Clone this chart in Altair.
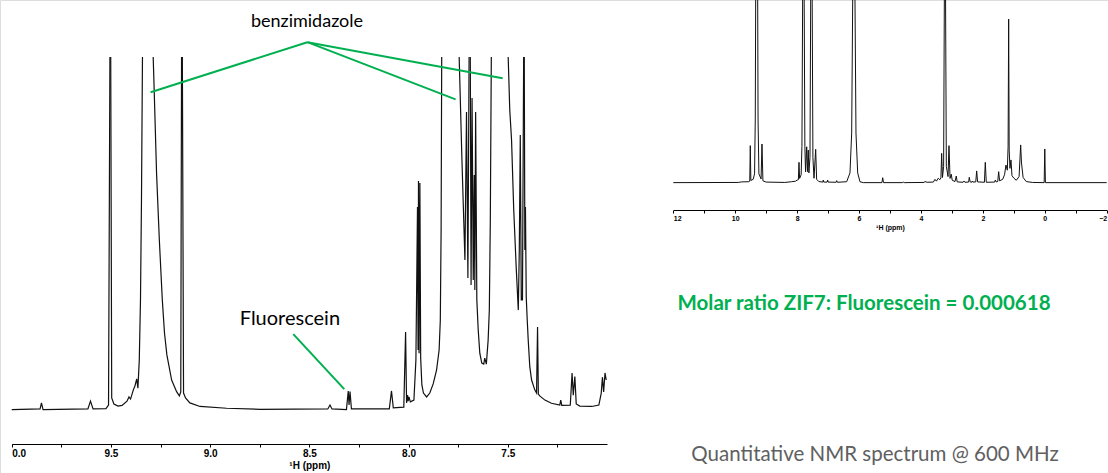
import altair as alt
import pandas as pd

# ---------------------------------------------------------------------------
# 1H NMR (600 MHz) of ZIF-7 loaded with fluorescein.
# Intensities are in % of the displayed window height; a value of 100 means
# the trace touches the top of the window.  Two consecutive 100 values mean
# the peak runs off scale between them (the trace is broken there).
# ---------------------------------------------------------------------------
FULL_SCALE = 100

# aromatic region, 10.0 - 7.0 ppm
MAIN_PPM = [
    10.000, 9.857, 9.850, 9.842, 9.616, 9.603, 9.590, 9.525, 9.512, 9.505,
    9.501, 9.496, 9.485, 9.464, 9.444, 9.419, 9.409, 9.401, 9.387, 9.379,
    9.370, 9.364, 9.357, 9.351, 9.346, 9.341, 9.287, 9.282, 9.270, 9.256,
    9.241, 9.230, 9.218, 9.194, 9.169, 9.155, 9.148, 9.144, 9.140, 9.134,
    9.124, 9.102, 9.051, 8.917, 8.749, 8.407, 8.396, 8.386, 8.313, 8.304,
    8.300, 8.295, 8.288, 8.097, 8.086, 8.077, 8.024, 8.015, 8.010, 8.005,
    8.002, 7.998, 7.991, 7.973, 7.963, 7.955, 7.952, 7.950, 7.947, 7.943,
    7.939, 7.933, 7.925, 7.909, 7.893, 7.876, 7.859, 7.846, 7.840, 7.836,
    7.833, 7.745, 7.731, 7.716, 7.708, 7.701, 7.695, 7.689, 7.685, 7.680,
    7.674, 7.669, 7.666, 7.662, 7.656, 7.649, 7.641, 7.631, 7.621, 7.616,
    7.608, 7.599, 7.593, 7.588, 7.583, 7.498, 7.490, 7.481, 7.470, 7.457,
    7.447, 7.442, 7.437, 7.432, 7.426, 7.420, 7.417, 7.414, 7.411, 7.407,
    7.402, 7.397, 7.389, 7.380, 7.364, 7.355, 7.350, 7.346, 7.339, 7.313,
    7.280, 7.238, 7.233, 7.228, 7.185, 7.176, 7.170, 7.162, 7.155, 7.137,
    7.077, 7.041, 7.029, 7.023, 7.017, 7.010, 7.004,
]
MAIN_INT = [
    0.1, 0.3, 2.0, 0.1, 0.3, 2.5, 0.3, 0.4, 1.4, 100,
    100, 3.4, 1.7, 1.1, 1.3, 2.5, 3.7, 3.1, 5.7, 6.8,
    8.8, 6.2, 14.2, 31.2, 59.5, 100, 100, 90.7, 67.1, 48.2,
    31.2, 21.8, 15.6, 8.5, 5.2, 4.0, 5.1, 100, 100, 4.8,
    3.4, 2.0, 1.0, 0.5, 0.2, 0.3, 1.4, 0.3, 0.1, 5.4,
    1.4, 5.2, 0.3, 0.3, 5.4, 0.6, 0.8, 22.1, 2.0, 4.2,
    2.5, 3.7, 2.3, 2.8, 14.2, 57.5, 17.0, 64.9, 16.1, 64.3,
    14.7, 7.1, 4.8, 3.7, 4.8, 7.4, 11.3, 17.0, 25.5, 51.0,
    100, 100, 70.8, 42.5, 84.4, 37.4, 100, 100, 35.4, 88.4,
    36.8, 66.6, 34.0, 84.4, 31.2, 22.7, 16.1, 13.3, 13.0, 14.7,
    13.0, 19.8, 28.3, 53.8, 100, 100, 85.0, 76.5, 56.7, 39.7,
    28.3, 45.3, 77.9, 31.2, 31.2, 100, 100, 45.3, 57.5, 32.0,
    25.5, 19.8, 12.2, 8.5, 5.7, 4.8, 23.5, 4.5, 4.0, 2.8,
    1.9, 1.4, 2.8, 1.3, 1.4, 10.5, 4.2, 9.5, 1.7, 1.1,
    1.0, 1.4, 4.8, 9.3, 5.1, 10.5, 8.5,
]

# full spectrum, 12 - -2 ppm
INSET_PPM = [
    12.00, 9.90, 9.80, 9.56, 9.530, 9.513, 9.495, 9.42, 9.375, 9.352,
    9.339, 9.274, 9.262, 9.235, 9.165, 9.135, 9.105, 9.00, 8.40, 8.18,
    8.05, 8.00, 7.96, 7.940, 7.92, 7.87, 7.845, 7.822, 7.772, 7.750,
    7.728, 7.691, 7.665, 7.640, 7.620, 7.585, 7.562, 7.514, 7.490, 7.455,
    7.401, 7.37, 7.30, 7.17, 7.155, 7.14, 7.03, 7.013, 7.00, 6.74,
    6.722, 6.70, 6.40, 6.293, 6.238, 6.205, 6.131, 6.099, 6.044, 5.970,
    5.863, 5.26, 5.236, 5.21, 4.60, 4.571, 4.54, 3.90, 3.870, 3.80,
    3.60, 3.547, 3.50, 3.441, 3.39, 3.355, 3.331, 3.305, 3.268, 3.245,
    3.205, 3.180, 3.125, 3.095, 3.060, 3.021, 2.99, 2.90, 2.859, 2.83,
    2.64, 2.610, 2.58, 2.46, 2.439, 2.41, 2.36, 2.342, 2.32, 2.23,
    2.200, 2.17, 1.95, 1.922, 1.89, 1.62, 1.599, 1.57, 1.52, 1.490,
    1.46, 1.36, 1.30, 1.254, 1.21, 1.185, 1.167, 1.150, 1.125, 1.092,
    1.06, 0.996, 0.92, 0.83, 0.779, 0.752, 0.70, 0.60, 0.40, 0.02,
    0.000, -0.02, -2.00,
]
INSET_INT = [
    0.2, 0.3, 0.6, 0.7, 1.0, 20.4, 1.4, 2.0, 5.0, 35.0,
    100, 100, 35.0, 5.0, 2.2, 21.3, 1.2, 0.5, 0.3, 0.7,
    1.0, 1.6, 1.8, 11.3, 2.5, 4.5, 20.0, 100, 100, 20.0,
    6.0, 19.8, 6.2, 18.0, 5.5, 14.0, 100, 100, 14.0, 2.6,
    18.4, 2.0, 0.8, 0.5, 1.6, 0.5, 0.5, 1.6, 0.5, 0.4,
    1.3, 0.4, 0.7, 5.5, 27.3, 100, 100, 27.3, 5.5, 0.7,
    0.2, 0.2, 2.9, 0.2, 0.2, 0.5, 0.2, 0.3, 0.8, 0.4,
    0.5, 2.0, 1.0, 2.6, 1.8, 2.8, 16.2, 3.0, 9.0, 100,
    100, 9.0, 3.5, 20.4, 2.5, 4.8, 1.5, 0.8, 3.8, 0.6,
    0.4, 1.1, 0.4, 0.5, 3.1, 0.6, 0.4, 1.1, 0.5, 0.6,
    6.6, 0.6, 0.4, 11.3, 0.4, 0.5, 1.6, 0.6, 0.8, 6.2,
    1.2, 2.0, 4.5, 9.8, 7.0, 20.0, 89.6, 18.0, 8.0, 12.6,
    4.0, 2.6, 1.5, 3.5, 20.8, 10.9, 3.0, 0.8, 0.3, 0.2,
    18.6, 0.2, 0.2,
]

MAIN_TICKS = [10.0 - 0.25 * i for i in range(12)]
INSET_TICKS = list(range(12, -3, -1))

# callouts (main-panel coordinates: ppm, % of window)
BENZ_HUB_PPM, BENZ_HUB_INT = 8.510, 104.2
BENZ_TIP_PPM = [9.300, 7.763, 7.526]
BENZ_TIP_INT = [90.0, 88.0, 94.0]
FLUO_FROM = (8.581, 21.5)
FLUO_TO = (8.324, 5.9)
LABEL_TEXT = ["benzimidazole", "Fluorescein"]
LABEL_PPM = [8.512, 8.598]
LABEL_INT = [109.9, 25.8]
LABEL_SIZE = [18, 20]

RATIO_TEXT = "Molar ratio ZIF7: Fluorescein = 0.000618"
CAPTION_TEXT = "Quantitative NMR spectrum @ 600 MHz"

GREEN = "#00B050"
AXIS_FONT = "Liberation Sans"
TEXT_FONT = "Lato"


def trace_frame(ppm, inten):
    assert len(ppm) == len(inten)
    rows, seg, prev = [], 0, None
    for p, v in zip(ppm, inten):
        if prev == FULL_SCALE and v == FULL_SCALE:
            seg += 1
        rows.append({"ppm": p, "intensity": v, "segment": seg})
        prev = v
    return pd.DataFrame(rows)


main_df = trace_frame(MAIN_PPM, MAIN_INT)
inset_df = trace_frame(INSET_PPM, INSET_INT)

callout_df = pd.DataFrame({
    "ppm": [BENZ_HUB_PPM] * 3 + [FLUO_FROM[0]],
    "intensity": [BENZ_HUB_INT] * 3 + [FLUO_FROM[1]],
    "ppm2": BENZ_TIP_PPM + [FLUO_TO[0]],
    "intensity2": BENZ_TIP_INT + [FLUO_TO[1]],
})
label_df = pd.DataFrame({"ppm": LABEL_PPM, "intensity": LABEL_INT,
                         "label": LABEL_TEXT, "size": LABEL_SIZE})


def main_xscale():
    return alt.Scale(domain=[10, 7], range=[11.7, 607], nice=False, zero=False)


def main_yscale():
    return alt.Scale(domain=[0, 100], range=[410, 57], nice=False, zero=False)


inset_xscale = alt.Scale(domain=[12, -2], range=[673.3, 1106.7], nice=False, zero=False)
inset_yscale = alt.Scale(domain=[0, 100], range=[183, 0], nice=False, zero=False)

axis_common = dict(
    orient="bottom", grid=False, domainColor="black", domainWidth=1,
    tickColor="black", tickWidth=1, tickSize=3, labelColor="black",
    labelFont=AXIS_FONT, labelFontWeight="bold", labelOverlap=False,
    titleFont=AXIS_FONT, titleFontWeight="bold", titleColor="black",
    title="\u00b9H (ppm)",
)

main_axis = alt.Axis(
    values=MAIN_TICKS, offset=-29, labelFontSize=10, labelPadding=1,
    titleFontSize=10, titlePadding=2, labelFlush=True,
    # labels on the half-ppm ticks; the first one is trimmed at the frame edge
    labelExpr="abs(datum.value * 2 - round(datum.value * 2)) < 0.001 ? "
              "slice(format(datum.value, '.1f'), -3) : ''",
    **axis_common,
)
inset_axis = alt.Axis(
    values=INSET_TICKS, offset=-263, labelFontSize=7, labelPadding=1,
    titleFontSize=7, titlePadding=2,
    labelExpr="datum.value % 2 == 0 ? format(datum.value, 'd') : ''",
    **axis_common,
)

spectrum = alt.Chart(main_df).mark_line(color="#111111", strokeWidth=1.2).encode(
    x=alt.X("ppm:Q", scale=main_xscale(), axis=main_axis),
    y=alt.Y("intensity:Q", scale=main_yscale(), axis=None),
    detail="segment:N",
)

inset = alt.Chart(inset_df).mark_line(color="#111111", strokeWidth=1).encode(
    x=alt.X("ppm:Q", scale=inset_xscale, axis=inset_axis),
    y=alt.Y("intensity:Q", scale=inset_yscale, axis=None),
    detail="segment:N",
)

callouts = alt.Chart(callout_df).mark_rule(color=GREEN, strokeWidth=2).encode(
    x=alt.X("ppm:Q", scale=main_xscale(), axis=None),
    y=alt.Y("intensity:Q", scale=main_yscale(), axis=None),
    x2="ppm2:Q",
    y2="intensity2:Q",
)

labels = alt.Chart(label_df).mark_text(
    font=TEXT_FONT, color="black", align="center", baseline="middle"
).encode(
    x=alt.X("ppm:Q", scale=main_xscale(), axis=None),
    y=alt.Y("intensity:Q", scale=main_yscale(), axis=None),
    size=alt.Size("size:Q", scale=None, legend=None),
    text="label:N",
)

ratio = alt.Chart(pd.DataFrame({"t": [RATIO_TEXT]})).mark_text(
    font=TEXT_FONT, fontSize=20.5, fontWeight="bold", color=GREEN,
    align="center", baseline="middle",
).encode(x=alt.value(864), y=alt.value(304), text="t:N")

caption = alt.Chart(pd.DataFrame({"t": [CAPTION_TEXT]})).mark_text(
    font=TEXT_FONT, fontSize=20.5, color="#606060",
    align="center", baseline="middle",
).encode(x=alt.value(875), y=alt.value(455), text="t:N")

chart = (
    alt.layer(spectrum, inset, callouts, labels, ratio, caption)
    .resolve_scale(x="independent", y="independent")
    .properties(width=1108, height=473, autosize=alt.AutoSizeParams(type="none"), padding=0)
    .configure_view(stroke=None)
    .configure(background="white")
)

chart.save("out.html", embed_options={"renderer": "svg", "actions": False})
